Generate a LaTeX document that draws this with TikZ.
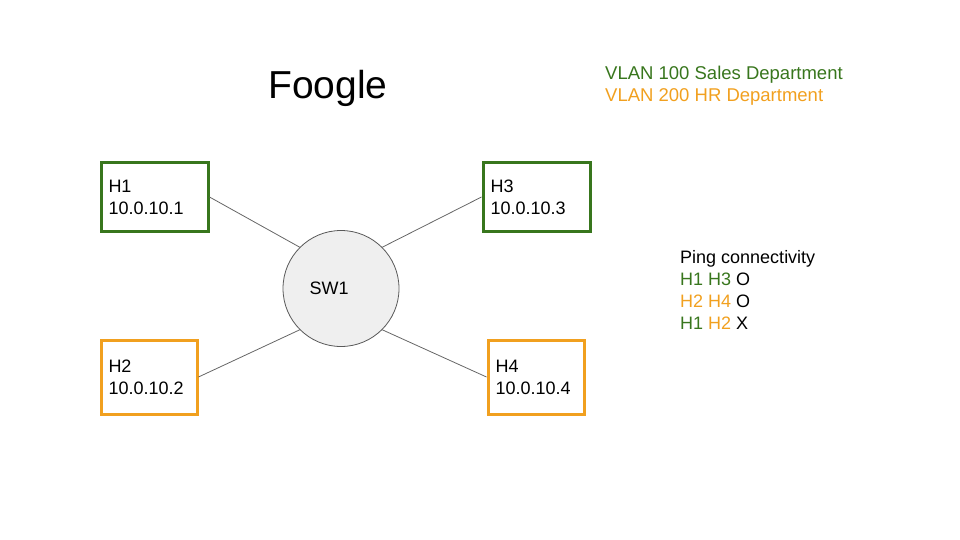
\documentclass[tikz,border=0pt]{standalone}
\usepackage{fontspec}
\setmainfont{Liberation Sans}
\definecolor{vgreen}{HTML}{38761D}
\definecolor{vorange}{HTML}{F1A01F}
\definecolor{swfill}{HTML}{EFEFEF}
\definecolor{swline}{HTML}{595959}
\begin{document}
\begin{tikzpicture}[x = 1pt, y = -1pt,
        host/.style = {draw, line width = 3pt, anchor = north west, align = left,
            inner xsep = 7.5pt, font = \fontsize{18}{22}\selectfont},
        link/.style = {draw = black!60, line width = 0.8pt},
        txt/.style = {anchor = base west, inner sep = 0pt, font = \fontsize{18.5}{22}\selectfont}
    ]
        \useasboundingbox (0, 0) rectangle (960, 540);

        % title and legend
        \node [anchor = base west, inner sep = 0pt, font = \fontsize{39}{48}\selectfont] (title) at (268, 99) {Foogle};
        \node [txt, text = vgreen] (sales) at (605, 79.5) {VLAN 100 Sales Department};
        \node [txt, text = vorange] (hr) at (605, 101.5) {VLAN 200 HR Department};

        % switch and hosts
        \node [circle, draw = swline, fill = swfill, line width = 0.8pt, minimum size = 116pt,
            label = {[xshift = -12pt, font = \fontsize{18}{22}\selectfont]center:SW1}] (sw) at (341, 288.5) {};
        \node [host, vgreen, text = black, minimum height = 68pt, text width = 92pt] (h1) at (99.5, 161.5) {H1\\10.0.10.1};
        \node [host, vgreen, text = black, minimum height = 68pt, text width = 92pt] (h3) at (481.5, 161.5) {H3\\10.0.10.3};
        \node [host, vorange, text = black, minimum height = 74pt, text width = 81pt] (h2) at (99.5, 338.5) {H2\\10.0.10.2};
        \node [host, vorange, text = black, minimum height = 74pt, text width = 81pt] (h4) at (486.5, 338.5) {H4\\10.0.10.4};

        \draw [link] (h1.east) -- (sw.135);
        \draw [link] (h3.west) -- (sw.45);
        \draw [link] (h2.east) -- (sw.225);
        \draw [link] (h4.west) -- (sw.315);

        % ping results
        \node [txt, align = left, font = \fontsize{18}{22}\selectfont] (ping) at (680, 329) {Ping connectivity\\
            \textcolor{vgreen}{H1 H3} O\\
            \textcolor{vorange}{H2 H4} O\\
            \textcolor{vgreen}{H1} \textcolor{vorange}{H2} X};
    \end{tikzpicture}
\end{document}
